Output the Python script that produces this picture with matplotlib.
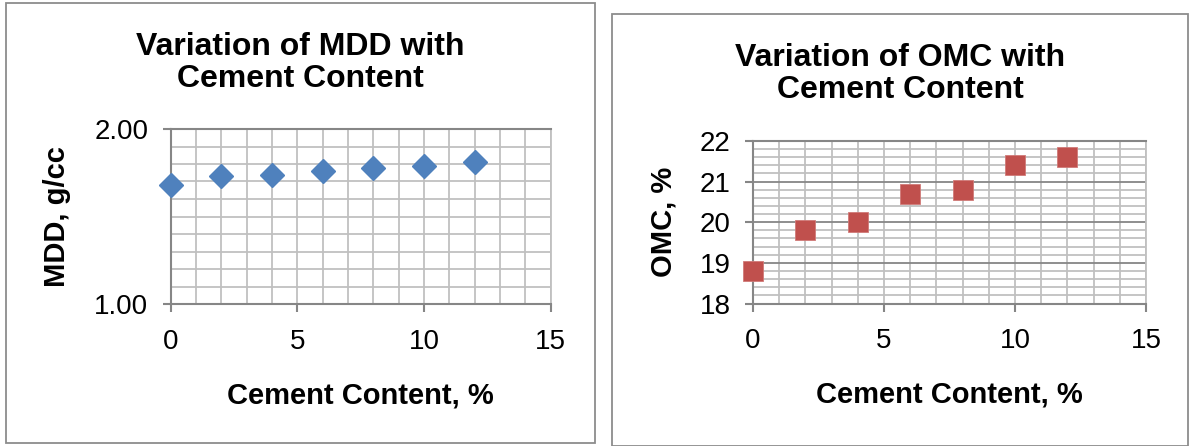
import matplotlib
matplotlib.use("Agg")
import matplotlib.pyplot as plt
from matplotlib.patches import Rectangle
from matplotlib.ticker import MultipleLocator, FormatStrFormatter

plt.rcParams['font.family'] = ['Liberation Sans', 'DejaVu Sans']

# Compaction results against cement content
cement = [0, 2, 4, 6, 8, 10, 12]
mdd = [1.68, 1.73, 1.74, 1.76, 1.78, 1.79, 1.81]   # g/cc
omc = [18.8, 19.8, 20.0, 20.7, 20.8, 21.4, 21.6]   # %

W, H = 1189, 446
DARK = '#868686'
LIGHT = '#c0c0c0'


def fx(px):
    return px / W


def fy(py):
    return 1 - py / H


def style_axes(ax, ymin, ymax, ymajor, yminor, yfmt):
    ax.set_xlim(0, 15)
    ax.set_ylim(ymin, ymax)
    ax.xaxis.set_major_locator(MultipleLocator(5))
    ax.xaxis.set_minor_locator(MultipleLocator(1))
    ax.yaxis.set_major_locator(MultipleLocator(ymajor))
    ax.yaxis.set_minor_locator(MultipleLocator(yminor))
    ax.yaxis.set_major_formatter(FormatStrFormatter(yfmt))
    ax.set_axisbelow(True)
    ax.grid(True, which='both', axis='x', color=LIGHT, lw=1.3)
    ax.grid(True, which='minor', axis='y', color=LIGHT, lw=1.3)
    ax.grid(True, which='major', axis='y', color=DARK, lw=1.3)
    for side in ['left', 'bottom', 'top']:
        ax.spines[side].set_color(DARK)
        ax.spines[side].set_linewidth(1.5)
    ax.spines['right'].set_color(LIGHT)
    ax.spines['right'].set_linewidth(1.3)
    ax.tick_params(which='major', direction='out', length=6, width=1.5,
                   color=DARK, labelsize=20)
    ax.tick_params(which='minor', length=0)
    ax.tick_params(axis='x', pad=12)
    ax.tick_params(axis='y', pad=10)


fig = plt.figure(figsize=(W / 100, H / 100), dpi=100)

# chart frames
fig.add_artist(Rectangle((fx(6), fy(443)), (595 - 6) / W, (443 - 3) / H,
                         transform=fig.transFigure, fill=False,
                         ec='#8c8c8c', lw=1.3))
fig.add_artist(Rectangle((fx(612), fy(446)), (1188 - 612) / W, (446 - 14) / H,
                         transform=fig.transFigure, fill=False,
                         ec='#8c8c8c', lw=1.3))

# MDD chart
ax1 = fig.add_axes([fx(170.7), fy(304), 380 / W, 175 / H])
style_axes(ax1, 1.0, 2.0, 1.0, 0.1, '%.2f')
ax1.plot(cement, mdd, linestyle='none', marker='D', markersize=12.5,
         color='#4f81bd', clip_on=False, zorder=5)
ax1.set_xlabel('Cement Content, %', fontsize=21, fontweight='bold', va='center')
ax1.xaxis.set_label_coords(0.5, -0.52)
ax1.set_ylabel('MDD, g/cc', fontsize=21, fontweight='bold', va='center')
ax1.yaxis.set_label_coords(-0.299, 0.5)
fig.text(fx(300), fy(63), 'Variation of MDD with\nCement Content',
         ha='center', va='center', fontsize=23, fontweight='bold',
         linespacing=1.05)

# OMC chart
ax2 = fig.add_axes([fx(753), fy(303.5), 393 / W, 162.5 / H])
style_axes(ax2, 18, 22, 1, 0.2, '%d')
ax2.plot(cement, omc, linestyle='none', marker='s', markersize=14,
         color='#c0504d', markeredgecolor='#d07a78', markeredgewidth=0.6,
         clip_on=False, zorder=5)
ax2.set_xlabel('Cement Content, %', fontsize=21, fontweight='bold', va='center')
ax2.xaxis.set_label_coords(0.5, -0.563)
ax2.set_ylabel('OMC, %', fontsize=21, fontweight='bold', va='center')
ax2.yaxis.set_label_coords(-0.2265, 0.5)
fig.text(fx(900), fy(74), 'Variation of OMC with\nCement Content',
         ha='center', va='center', fontsize=23, fontweight='bold',
         linespacing=1.05)

fig.savefig('out.png', dpi=100, facecolor='white')
